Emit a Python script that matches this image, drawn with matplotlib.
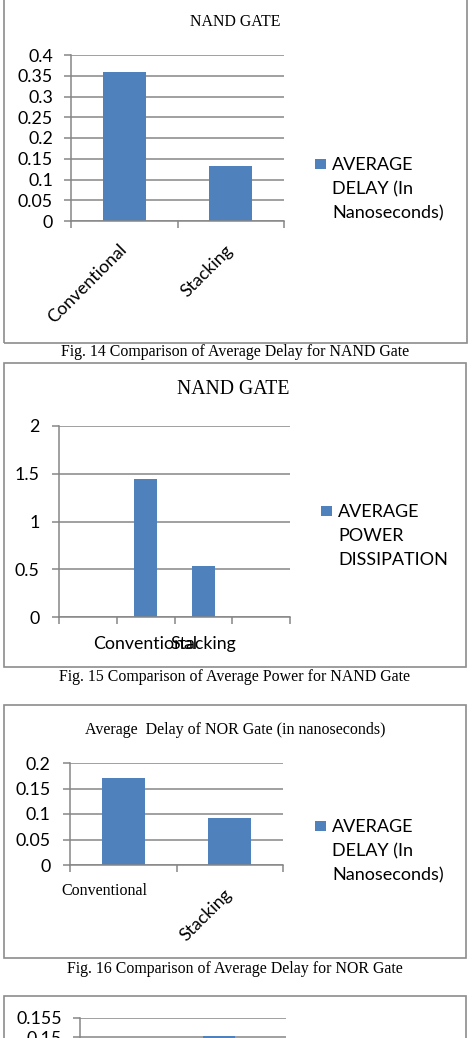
import matplotlib
matplotlib.use("Agg")
import matplotlib.pyplot as plt
from matplotlib.patches import Rectangle
from matplotlib.ticker import FuncFormatter
from matplotlib.transforms import ScaledTranslation

# data
categories = ["Conventional", "Stacking"]
nand_delay = [0.36, 0.133]        # ns
nand_power = [1.44, 0.53]
nor_delay = [0.17, 0.093]         # ns
nor_power = [0.14, 0.1502]        # last chart, only its top is visible

delay_label = "AVERAGE\nDELAY (In\nNanoseconds)"
power_label = "AVERAGE\nPOWER\nDISSIPATION"

BLUE = "#4F81BD"
GRID = "#868686"
SANS = "Lato"
SERIF = "Liberation Serif"
W, H = 473, 1038

fig = plt.figure(figsize=(W / 100, H / 100), dpi=100)


def box(x0, y0, x1, y1):
    # pixel box (top-left origin) -> figure fraction rect
    return [x0 / W, 1 - y1 / H, (x1 - x0) / W, (y1 - y0) / H]


def border(x0, y0, x1, y1):
    fig.patches.append(Rectangle((x0 / W, 1 - y1 / H), (x1 - x0) / W, (y1 - y0) / H,
                                 transform=fig.transFigure, fill=False,
                                 edgecolor="#8c8c8c", lw=1.2))


def legend(x, y, label):
    fig.patches.append(Rectangle(((x - 17) / W, 1 - (y + 5) / H), 11 / W, 10 / H,
                                 transform=fig.transFigure, color=BLUE, lw=0))
    fig.text(x / W, 1 - (y - 7) / H, label, family=SANS, fontsize=13,
             va="top", ha="left", linespacing=1.6)


def setup(ax, yticks, nslots, pad=8):
    ax.set_ylim(yticks[0], yticks[-1])
    ax.set_yticks(yticks)
    ax.yaxis.set_major_formatter(FuncFormatter(lambda v, p: f"{v:g}"))
    ax.yaxis.grid(True, color=GRID, lw=1.1)
    ax.set_axisbelow(True)
    for s in ["top", "right"]:
        ax.spines[s].set_visible(False)
    for s in ["left", "bottom"]:
        ax.spines[s].set_color(GRID)
        ax.spines[s].set_linewidth(1.1)
    ax.tick_params(axis="y", color=GRID, length=5, width=1.1, pad=pad,
                   labelsize=12.8, labelfontfamily=SANS)
    ax.set_xticks([i - 0.5 for i in range(nslots + 1)], minor=True)
    ax.tick_params(axis="x", which="minor", color=GRID, length=5, width=1.1)
    ax.tick_params(axis="x", which="major", length=0, labelsize=12.8,
                   labelfontfamily=SANS)


# ---- Fig. 14 : NAND delay ----
border(4, -3, 467, 343)
fig.text(235 / W, 1 - 22 / H, "NAND GATE", family=SERIF, fontsize=11.4,
         ha="center", va="center")
ax1 = fig.add_axes(box(71, 55, 284, 221))
ax1.bar(range(len(categories)), nand_delay, width=0.4, color=BLUE)
ax1.set_xlim(-0.5, 1.5)
setup(ax1, [0, 0.05, 0.1, 0.15, 0.2, 0.25, 0.3, 0.35, 0.4], 2)
ax1.set_xticks(range(len(categories)))
ax1.set_xticklabels(categories, rotation=45, ha="right", va="center",
                    rotation_mode="anchor")
ax1.tick_params(axis="x", which="major", pad=19)
legend(332, 164, delay_label)
fig.text(235 / W, 1 - 352 / H, "Fig. 14 Comparison of Average Delay for NAND Gate",
         family=SERIF, fontsize=11.4, ha="center", va="center")

# ---- Fig. 15 : NAND power ----
border(4, 363, 466, 667)
fig.text(233 / W, 1 - 390 / H, "NAND GATE", family=SERIF, fontsize=14.2,
         ha="center", va="center")
ax2 = fig.add_axes(box(59, 426, 290, 617))
ax2.bar([1, 2], nand_power, width=0.4, color=BLUE)
ax2.set_xlim(-0.5, 3.5)
setup(ax2, [0, 0.5, 1, 1.5, 2], 4, pad=9)
ax2.set_xticks([1, 2])
ax2.set_xticklabels(categories)
ax2.tick_params(axis="x", which="major", pad=14)
legend(338, 511, power_label)
fig.text(235 / W, 1 - 677 / H, "Fig. 15 Comparison of Average Power for NAND Gate",
         family=SERIF, fontsize=11.4, ha="center", va="center")

# ---- Fig. 16 : NOR delay ----
border(4, 705, 466, 958)
fig.text(235 / W, 1 - 730 / H, "Average  Delay of NOR Gate (in nanoseconds)",
         family=SERIF, fontsize=11.5, ha="center", va="center")
ax3 = fig.add_axes(box(70, 763, 283, 865))
ax3.bar(range(len(categories)), nor_delay, width=0.4, color=BLUE)
ax3.set_xlim(-0.5, 1.5)
setup(ax3, [0, 0.05, 0.1, 0.15, 0.2], 2, pad=9)
ax3.set_xticks(range(len(categories)))
ax3.set_xticklabels(categories)
ax3.tick_params(axis="x", which="major", pad=19)
lab0, lab1 = ax3.get_xticklabels()
lab0.set_fontfamily(SERIF)
lab0.set_fontsize(11.5)
lab0.set_transform(lab0.get_transform() + ScaledTranslation(-0.19, 0.08, fig.dpi_scale_trans))
lab1.set_rotation(45)
lab1.set_rotation_mode("anchor")
lab1.set_ha("right")
lab1.set_va("center")
legend(332, 826, delay_label)
fig.text(235 / W, 1 - 969 / H, "Fig. 16 Comparison of Average Delay for NOR Gate",
         family=SERIF, fontsize=11.4, ha="center", va="center")

# ---- next chart, cut off at the bottom of the page ----
border(4, 996, 466, 1100)
ax4 = fig.add_axes(box(80, 1018, 286, 1113))
ax4.bar(range(len(categories)), nor_power, width=0.345, color=BLUE)
ax4.set_xlim(-0.5, 1.72)
setup(ax4, [0.13, 0.135, 0.14, 0.145, 0.15, 0.155], 2, pad=8)

fig.savefig("out.png", dpi=100)
